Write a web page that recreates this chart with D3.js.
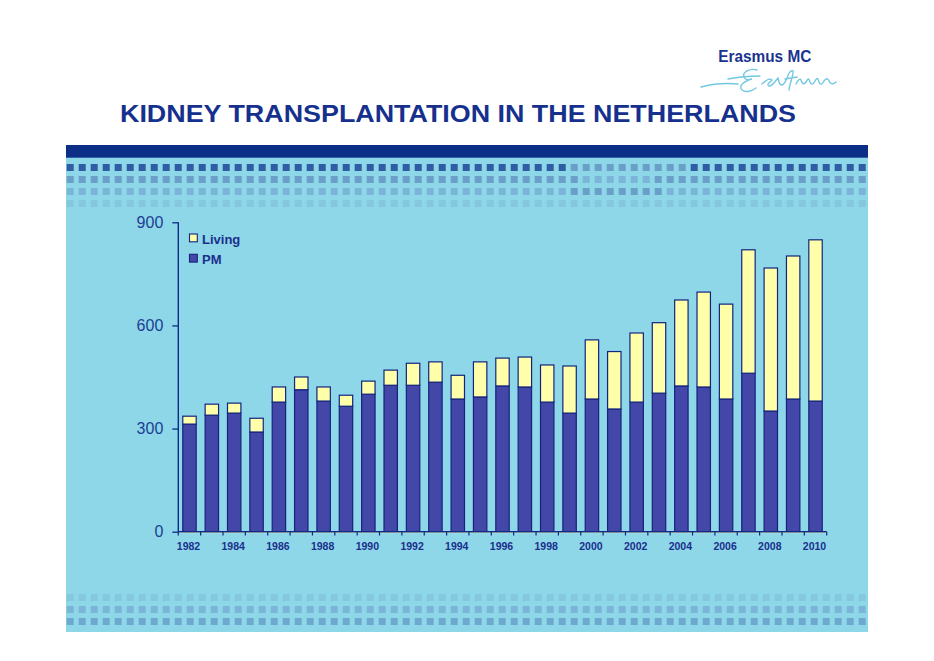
<!DOCTYPE html>
<html>
<head>
<meta charset="utf-8">
<script src="https://cdn.jsdelivr.net/npm/d3@7"></script>
<style>
html,body{margin:0;padding:0;background:#fff;}
svg{display:block;}
</style>
</head>
<body>
<svg id="chart" width="934" height="661"></svg>
<script>
// ---- data ----
const years = [1982,1983,1984,1985,1986,1987,1988,1989,1990,1991,1992,1993,1994,1995,1996,1997,1998,1999,2000,2001,2002,2003,2004,2005,2006,2007,2008,2009,2010];
const pmValues = [313,339,345,290,377,413,380,365,400,426,426,435,386,392,424,421,377,345,386,357,377,403,424,421,386,461,351,386,380];
const livingValues = [23,32,29,40,44,37,41,32,38,44,64,59,69,102,81,87,108,137,172,167,201,205,250,276,276,359,416,416,469];
const yTicks = [0,300,600,900];
const seriesNames = ["Living","PM"];
const titleText = "KIDNEY TRANSPLANTATION IN THE NETHERLANDS";

// ---- drawing ----
const svg = d3.select("#chart");
const navy = "#0d2a86";
const textNavy = "#1b2f8c";
const panelBg = "#8dd7e8";

// panel
svg.append("rect").attr("x",66).attr("y",145).attr("width",802).attr("height",487).attr("fill",panelBg);
svg.append("rect").attr("x",66).attr("y",145).attr("width",802).attr("height",12.7).attr("fill","#0b2e86");

// decorative square rows (top)
const dark="#2f5ca3", mid="#6a9fc9", light="#7ab5d8", faint="#84c7de";
function topColor(row,k){
  if(row===0) return (k>=42&&k<=51)?mid:dark;
  if(row===1) return (k>=43&&k<=48)?light:mid;
  if(row===2) return (k>=42&&k<=49)?mid:light;
  return faint;
}
const cols = d3.range(67);
[0,1,2,3].forEach(r=>{
  svg.append("g").selectAll("rect").data(cols).join("rect")
    .attr("x",k=>66.7+12*k).attr("y",164+12*r).attr("width",7).attr("height",7)
    .attr("fill",k=>topColor(r,k));
});
// bottom rows
const bottomColors=["#84c7de","#7ab5d8","#6fa8cf"];
bottomColors.forEach((c,r)=>{
  svg.append("g").selectAll("rect").data(cols).join("rect")
    .attr("x",k=>66.7+12*k).attr("y",594+12*r).attr("width",7).attr("height",7)
    .attr("fill",c);
});

// title
svg.append("text").attr("x",458).attr("y",121.7).attr("text-anchor","middle")
  .attr("font-family","Liberation Sans, Arial, sans-serif").attr("font-weight","bold")
  .attr("font-size",23.5).attr("fill","#16308e")
  .attr("textLength",676).attr("lengthAdjust","spacingAndGlyphs")
  .text(titleText);

// logo
svg.append("text").attr("x",718.3).attr("y",61.7)
  .attr("font-family","Liberation Sans, Arial, sans-serif").attr("font-weight","bold")
  .attr("font-size",16).attr("fill","#1a3390")
  .attr("textLength",93).attr("lengthAdjust","spacingAndGlyphs")
  .text("Erasmus MC");
const sig = svg.append("g").attr("fill","none").attr("stroke","#72c8e0").attr("stroke-width",1.4).attr("stroke-linecap","round");
// swash + big script letter
sig.append("path").attr("d","M701,87 C712,84 726,83 738,84");
sig.append("path").attr("d","M757,70 C750,68 742,72 744,77 C745,80 749,80 752,79 C744,81 738,86 742,90 C746,93 752,91 756,88");
sig.append("path").attr("d","M728,79 C738,77 748,76 760,76");
// remaining cursive letters
sig.append("path").attr("d","M762,84 C766,80 770,78 772,80 C770,82 766,85 769,86 C773,86 776,80 778,78 C779,82 779,85 782,85 C785,84 786,80 787,78 C789,72 791,70 793,71 C794,74 790,82 789,90 M785,79 L797,77 M796,84 C798,80 800,78 801,80 C802,84 804,85 806,82 C808,78 809,78 810,82 C811,85 813,85 815,81 C817,77 818,78 819,82 C820,85 822,85 824,81 C826,78 828,78 829,81 C830,84 833,85 836,82");

// scales
const x = d3.scaleBand().domain(years).range([178.3,826.7]).paddingInner(0.4).paddingOuter(0.2);
const y = d3.scaleLinear().domain([0,900]).range([531.7,222.3]);

// stacked bars
const rows = years.map((yr,i)=>({year:yr, PM:pmValues[i], Living:livingValues[i]}));
const stack = d3.stack().keys(["PM","Living"])(rows);
const fills = {PM:"#4347a8", Living:"#ffffaa"};
stack.forEach(layer=>{
  svg.append("g").selectAll("rect").data(layer).join("rect")
    .attr("x",d=>x(d.data.year)).attr("width",x.bandwidth())
    .attr("y",d=>y(d[1])).attr("height",d=>y(d[0])-y(d[1]))
    .attr("fill",fills[layer.key]).attr("stroke","#14237e").attr("stroke-width",1.2);
});

// y axis
const yAxis = d3.axisLeft(y).tickValues(yTicks).tickSize(6).tickPadding(9).tickFormat(d3.format("d"));
const yg = svg.append("g").attr("transform","translate(178.3,0)").call(yAxis);
yg.select(".domain").attr("stroke",navy).attr("stroke-width",1.4).attr("d","M0,222.3V531.7");
yg.selectAll(".tick line").attr("stroke",navy).attr("stroke-width",1.3);
yg.selectAll(".tick text").attr("fill","#203e92").attr("font-family","Liberation Sans, Arial, sans-serif").attr("font-size",16);

// x axis
const step = x.step();
const boundaries = years.map(yr=>x(yr)-step*0.2).concat([x(years[years.length-1])+x.bandwidth()+step*0.2]);
svg.append("line").attr("x1",178.3).attr("x2",826.7).attr("y1",532.6).attr("y2",532.6).attr("stroke","#fff8b0").attr("stroke-width",1);
svg.append("line").attr("x1",178.3).attr("x2",826.7).attr("y1",531.7).attr("y2",531.7).attr("stroke",navy).attr("stroke-width",1.4);
svg.append("g").selectAll("line").data(boundaries).join("line")
  .attr("x1",d=>d).attr("x2",d=>d).attr("y1",531.7).attr("y2",535.5)
  .attr("stroke",navy).attr("stroke-width",1.2);
svg.append("g").selectAll("text").data(years.filter(yr=>yr%2===0)).join("text")
  .attr("x",d=>x(d)+x.bandwidth()/2-1).attr("y",550)
  .attr("text-anchor","middle").attr("font-family","Liberation Sans, Arial, sans-serif")
  .attr("font-weight","bold").attr("font-size",10.5).attr("fill","#1b2f8c")
  .text(d=>d);

// legend
const legend = svg.append("g");
seriesNames.forEach((name,i)=>{
  const g = legend.append("g").attr("transform",`translate(189.5,${234+20.3*i})`);
  g.append("rect").attr("width",7.8).attr("height",7.8)
    .attr("fill",name==="Living"?fills.Living:fills.PM).attr("stroke","#14237e").attr("stroke-width",1.1);
  g.append("text").attr("x",12.5).attr("y",9.5)
    .attr("font-family","Liberation Sans, Arial, sans-serif").attr("font-weight","bold")
    .attr("font-size",13).attr("fill",textNavy).text(name);
});
</script>
</body>
</html>
